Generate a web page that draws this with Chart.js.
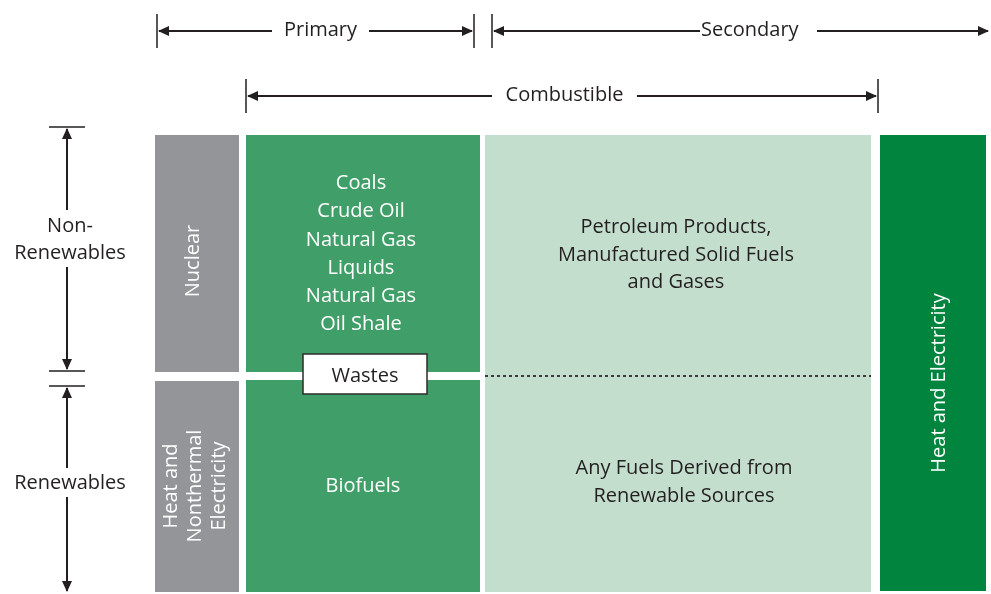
<!DOCTYPE html>
<html>
<head>
<meta charset="utf-8">
<script src="https://cdn.jsdelivr.net/npm/chart.js@4.4.0/dist/chart.umd.min.js"></script>
<style>
html, body { margin: 0; padding: 0; background: #fff; }
#wrap { width: 991px; height: 594px; }
</style>
</head>
<body>
<div id="wrap"><canvas id="energyChart" width="991" height="594"></canvas></div>
<script>
// diagram units: 0..991 across, 0..594 down
const boxNames = ['Nuclear', 'Heat and Nonthermal Electricity', 'Primary fuels', 'Biofuels', 'Secondary fuels', 'Heat and Electricity', 'Wastes'];
const boxLeft = [155, 155, 246, 246, 485, 880, 303];
const boxRight = [239, 239, 480, 480, 871, 986, 427];
const boxTop = [135, 381, 135, 380, 135, 135, 354];
const boxBottom = [372, 592, 372, 592, 592, 591, 394];

// horizontal brackets
const spanLabels = ['Primary', 'Secondary', 'Combustible'];
const spanStart = [157, 492, 246];
const spanEnd = [474, 990, 878];
const spanLevel = [31, 31, 96];

// vertical brackets
const sideLabels = [['Non-', 'Renewables'], ['Renewables']];
const sideStart = [127, 386];
const sideEnd = [371, 593];

const DARK = '#231f20';
const FONT = '"Open Sans", "Noto Sans", sans-serif';

const boxColors = ['#939598', '#939598', '#409e68', '#409e68', '#c4dece', '#00843e', '#ffffff'];

const boxText = [
    { lines: ['Nuclear'], x: 193, y: 261, rot: true, color: '#fff', lh: 24 },
    { lines: ['Heat and', 'Nonthermal', 'Electricity'], x: 195, y: 486, rot: true, color: '#fff', lh: 24 },
    { lines: ['Coals', 'Crude Oil', 'Natural Gas', 'Liquids', 'Natural Gas', 'Oil Shale'], x: 361, y: 254, color: '#fff', lh: 28.2 },
    { lines: ['Biofuels'], x: 363, y: 486, color: '#fff', lh: 28 },
    { lines: ['Petroleum Products,', 'Manufactured Solid Fuels', 'and Gases'], x: 676, y: 255, color: DARK, lh: 27.5 },
    { lines: ['Any Fuels Derived from', 'Renewable Sources'], x: 684, y: 482, color: DARK, lh: 28 },
    { lines: ['Heat and Electricity'], x: 939, y: 383, rot: true, color: '#fff', lh: 24 },
    { lines: ['Wastes'], x: 365, y: 376, color: DARK, lh: 24 }
];

// gaps in the bracket lines where the labels sit
const spanGap = [[272, 369], [700, 817], [492, 637]];
const sideGap = [[210, 267], [468, 497]];

function arrowHead(ctx, x, y, dx, dy) {
    const len = 11, half = 5;
    ctx.beginPath();
    ctx.moveTo(x, y);
    ctx.lineTo(x - dx * len - dy * half, y - dy * len - dx * half);
    ctx.lineTo(x - dx * len + dy * half, y - dy * len + dx * half);
    ctx.closePath();
    ctx.fill();
}

const diagramPlugin = {
    id: 'diagram',
    afterDraw(chart) {
        const ctx = chart.ctx;
        const sx = v => chart.scales.x.getPixelForValue(v);
        const sy = v => chart.scales.y.getPixelForValue(v);
        ctx.save();

        // boxes
        boxNames.forEach((name, i) => {
            const x0 = sx(boxLeft[i]), x1 = sx(boxRight[i]);
            const y0 = sy(boxTop[i]), y1 = sy(boxBottom[i]);
            ctx.fillStyle = boxColors[i];
            ctx.fillRect(x0, y0, x1 - x0, y1 - y0);
            if (name === 'Secondary fuels') {
                // dotted split between non-renewable and renewable
                ctx.strokeStyle = '#3a3a3a';
                ctx.lineWidth = 2;
                ctx.setLineDash([3, 3]);
                ctx.beginPath();
                ctx.moveTo(x0, sy(376));
                ctx.lineTo(x1, sy(376));
                ctx.stroke();
                ctx.setLineDash([]);
            } else if (name === 'Wastes') {
                ctx.strokeStyle = '#2b2b2b';
                ctx.lineWidth = 1.5;
                ctx.strokeRect(x0, y0, x1 - x0, y1 - y0);
            }
        });

        // box labels
        ctx.font = '20px ' + FONT;
        ctx.textAlign = 'center';
        ctx.textBaseline = 'middle';
        boxText.forEach(t => {
            ctx.fillStyle = t.color;
            const n = t.lines.length;
            ctx.save();
            ctx.translate(sx(t.x), sy(t.y));
            if (t.rot) ctx.rotate(-Math.PI / 2);
            t.lines.forEach((line, k) => {
                ctx.fillText(line, 0, (k - (n - 1) / 2) * t.lh);
            });
            ctx.restore();
        });

        // horizontal brackets
        ctx.strokeStyle = DARK;
        ctx.fillStyle = DARK;
        spanLabels.forEach((label, i) => {
            const y = sy(spanLevel[i]);
            const a = sx(spanStart[i]), b = sx(spanEnd[i]);
            ctx.lineWidth = 2;
            ctx.beginPath();
            ctx.moveTo(a + 2, y);
            ctx.lineTo(sx(spanGap[i][0]), y);
            ctx.moveTo(sx(spanGap[i][1]), y);
            ctx.lineTo(b - 2, y);
            ctx.stroke();
            arrowHead(ctx, a + 1, y, -1, 0);
            arrowHead(ctx, b - 1, y, 1, 0);
            ctx.lineWidth = 1.5;
            ctx.beginPath();
            ctx.moveTo(a, y - 17);
            ctx.lineTo(a, y + 17);
            if (label !== 'Secondary') {
                ctx.moveTo(b, y - 17);
                ctx.lineTo(b, y + 17);
            }
            ctx.stroke();
            ctx.font = '20px ' + FONT;
            ctx.textAlign = 'center';
            ctx.textBaseline = 'middle';
            const mid = label === 'Secondary' ? sx(spanGap[i][0]) + ctx.measureText(label).width / 2 + 1 : (sx(spanGap[i][0]) + sx(spanGap[i][1])) / 2;
            ctx.fillText(label, mid, y - 1);
        });

        // vertical brackets
        sideLabels.forEach((lines, i) => {
            const x = sx(67);
            const a = sy(sideStart[i]), b = sy(sideEnd[i]);
            ctx.lineWidth = 2;
            ctx.beginPath();
            ctx.moveTo(x, a + 2);
            ctx.lineTo(x, sy(sideGap[i][0]));
            ctx.moveTo(x, sy(sideGap[i][1]));
            ctx.lineTo(x, b - 2);
            ctx.stroke();
            arrowHead(ctx, x, a + 1, 0, -1);
            arrowHead(ctx, x, b - 1, 0, 1);
            ctx.lineWidth = 1.5;
            ctx.beginPath();
            ctx.moveTo(sx(49), a);
            ctx.lineTo(sx(85), a);
            if (i === 0) {
                ctx.moveTo(sx(49), b);
                ctx.lineTo(sx(85), b);
            }
            ctx.stroke();
            const cy = (sy(sideGap[i][0]) + sy(sideGap[i][1])) / 2 + 1;
            lines.forEach((line, k) => {
                ctx.fillText(line, sx(70), cy + (k - (lines.length - 1) / 2) * 27);
            });
        });

        ctx.restore();
    }
};

new Chart(document.getElementById('energyChart'), {
    type: 'scatter',
    data: { datasets: [] },
    options: {
        responsive: false,
        animation: false,
        layout: { padding: 0 },
        plugins: { legend: { display: false }, tooltip: { enabled: false } },
        scales: {
            x: { type: 'linear', min: 0, max: 991, display: false },
            y: { type: 'linear', min: 0, max: 594, reverse: true, display: false }
        }
    },
    plugins: [diagramPlugin]
});
</script>
</body>
</html>
